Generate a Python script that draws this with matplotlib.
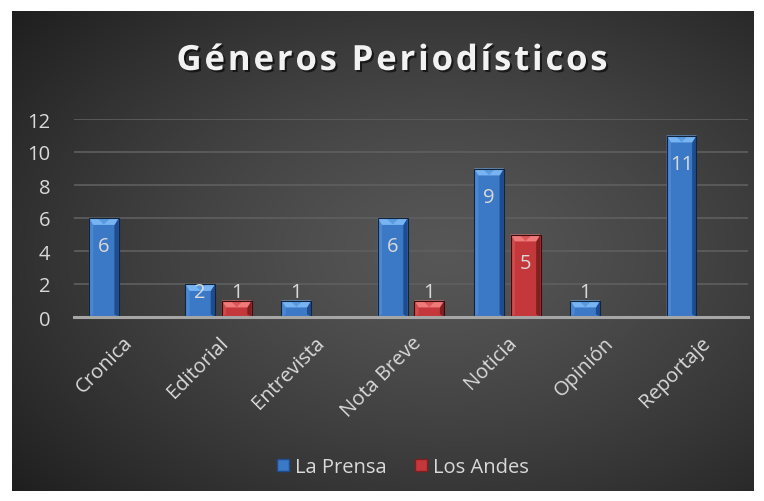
import numpy as np
import matplotlib.pyplot as plt
import matplotlib.patheffects as pe
from matplotlib.patches import Polygon, Rectangle
from matplotlib.lines import Line2D

categorias = ['Cronica', 'Editorial', 'Entrevista', 'Nota Breve', 'Noticia', 'Opinión', 'Reportaje']
la_prensa = [6, 2, 1, 6, 9, 1, 11]
los_andes = [np.nan, 1, np.nan, 1, 5, np.nan, np.nan]
series = ['La Prensa', 'Los Andes']
titulo = 'Géneros Periodísticos'

plt.rcParams['font.family'] = ['Open Sans', 'DejaVu Sans']

colores = {
    'La Prensa': dict(face='#3b78c6', top='#78b4f2', tri='#5a9be0', left='#4a88d4', right='#1f4c8c', edge='#10243f'),
    'Los Andes': dict(face='#c4373a', top='#ef7a7a', tri='#dc5658', left='#d24a4c', right='#7e1f22', edge='#3a0c0e'),
}
txt = '#d9d9d9'
fs = 14.5

fig = plt.figure(figsize=(7.64, 5.02), dpi=100)
fig.patch.set_facecolor('white')

# fondo con degradado radial
bg = fig.add_axes([12 / 764, 10 / 502, 742 / 764, 480 / 502])
ny, nx = 240, 371
yy, xx = np.mgrid[0:ny, 0:nx]
cx, cy = nx * 0.58, ny * 0.5
r = np.sqrt(((xx - cx) / nx) ** 2 + ((yy - cy) / ny) ** 2)
r = r / r.max()
val = 0.34 - 0.22 * r ** 1.3
img = np.dstack([val, val, val])
bg.imshow(img, aspect='auto', extent=[0, 1, 0, 1], interpolation='bilinear')
bg.set_axis_off()

ax = fig.add_axes([74 / 764, 1 - 318 / 502, (748 - 74) / 764, (318 - 120) / 502])
ax.set_facecolor('none')
x = np.arange(len(categorias))
w = 0.31
off = 0.19


def barra3d(xc, h, c):
    if np.isnan(h) or h <= 0:
        return
    x0 = xc - w / 2
    dx = 0.045
    dy = min(0.42, h * 0.45)
    ax.add_patch(Rectangle((x0, 0), w, h, facecolor=c['face'], edgecolor='none', zorder=3))
    ax.add_patch(Polygon([(x0, 0), (x0 + dx, dy * 0.4), (x0 + dx, h - dy), (x0, h)],
                         facecolor=c['left'], edgecolor='none', zorder=4))
    ax.add_patch(Polygon([(x0 + w, 0), (x0 + w - dx, dy * 0.4), (x0 + w - dx, h - dy), (x0 + w, h)],
                         facecolor=c['right'], edgecolor='none', zorder=4))
    ax.add_patch(Polygon([(x0, h), (x0 + w, h), (x0 + w - dx, h - dy), (x0 + dx, h - dy)],
                         facecolor=c['top'], edgecolor='none', zorder=4))
    ax.add_patch(Polygon([(x0 + 2 * dx, h - 0.02), (x0 + w - 2 * dx, h - 0.02), (xc, h - dy * 0.95)],
                         facecolor=c['tri'], edgecolor='none', zorder=5))
    ax.add_patch(Rectangle((x0, 0), w, h, facecolor='none', edgecolor=c['edge'],
                           linewidth=0.8, zorder=6))


for serie, vals, sgn in [('La Prensa', la_prensa, -1), ('Los Andes', los_andes, 1)]:
    for xi, v in zip(x, vals):
        barra3d(xi + sgn * off, v, colores[serie])
        if not np.isnan(v):
            ax.text(xi + sgn * off, max(v - 1.7, 1.5), f'{int(v)}', ha='center', va='center',
                    fontsize=fs, color=txt, zorder=7)

ax.set_xlim(-0.5, len(categorias) - 0.5)
ax.set_ylim(0, 12)
ax.set_yticks(range(0, 13, 2))
ax.yaxis.grid(True, color='#5f5f5f', linewidth=1.2)
ax.set_axisbelow(True)
for s in ['top', 'right', 'left']:
    ax.spines[s].set_visible(False)
ax.spines['bottom'].set_color('#a6a6a6')
ax.spines['bottom'].set_linewidth(2.2)
ax.spines['bottom'].set_zorder(8)
ax.tick_params(axis='y', length=0, pad=17, labelsize=fs, labelcolor=txt)
ax.tick_params(axis='x', length=0, pad=11, labelsize=fs, labelcolor=txt)
ax.set_xticks(x)
ax.set_xticklabels(categorias, rotation=45, ha='right', rotation_mode='anchor')

# titulo con espaciado entre letras
renderer = fig.canvas.get_renderer()
tfs = 25
ancho_total = 431.0
sombra = [pe.SimplePatchShadow(offset=(1.5, -1.5), shadow_rgbFace='black', alpha=0.6), pe.Normal()]
piezas = []
for ch in titulo:
    t = fig.text(0, 0, ch, fontsize=tfs, fontweight='bold', color='#f2f2f2', va='center', ha='left',
                 path_effects=sombra)
    ancho = t.get_window_extent(renderer).width
    if ch == ' ':
        ancho = tfs * 0.26 * 100 / 72
    piezas.append((t, ancho))
track = (ancho_total - sum(a for _, a in piezas)) / (len(piezas) - 1)
xpos = 392 - ancho_total / 2
for t, a in piezas:
    t.set_position((xpos / 764, 1 - 62 / 502))
    xpos += a + track

handles = [Line2D([], [], marker='s', linestyle='none', markersize=9,
                  markerfacecolor=colores[s]['face'], markeredgecolor=colores[s]['right']) for s in series]
fig.legend(handles, series, loc='center', bbox_to_anchor=(396 / 764, 1 - 468 / 502), ncol=2,
           frameon=False, fontsize=fs, labelcolor=txt, handletextpad=-0.4, columnspacing=0.7)

fig.savefig('out.png', dpi=100, facecolor='white')
